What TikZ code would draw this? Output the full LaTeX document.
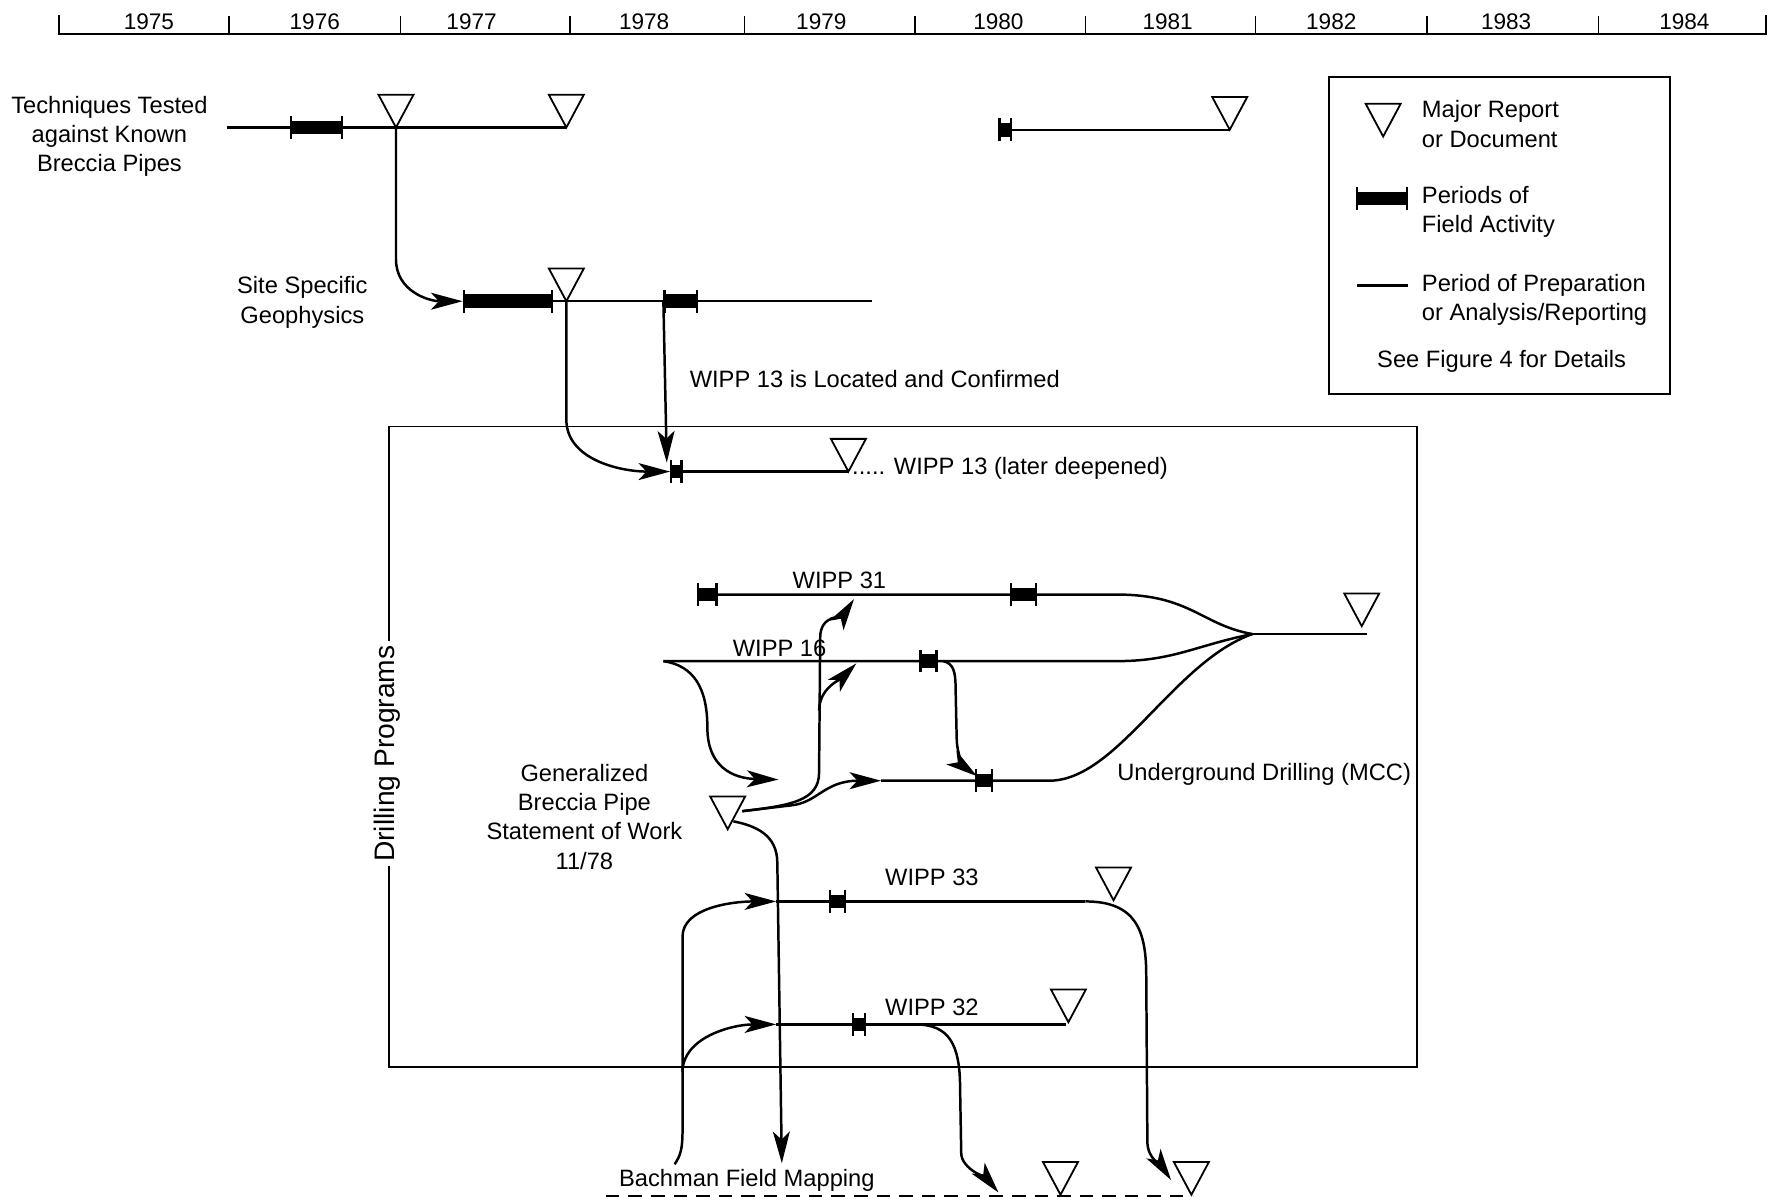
\documentclass[tikz,border=0pt]{standalone}
\usepackage{fontspec}
\setmainfont{Liberation Sans}
\usetikzlibrary{arrows.meta}

\begin{document}
\begin{tikzpicture}[x=0.5pt, y=-0.5pt,
    prep/.style={line width=1.1pt},
    flow/.style={line width=1.1pt, -{Stealth[length=14pt, width=7.5pt, inset=3.5pt]}},
    field/.style={line width=6pt, {Bar[width=10pt, line width=1pt]}-{Bar[width=10pt, line width=1pt]}},
    lbl/.style={font=\fontsize{10.5}{13}\selectfont, align=center, inner sep=1pt},
    report/.pic={\draw[line width=0.8pt, fill=white] (0,0) -- (-15.5,-29) -- (15.5,-29) -- cycle;}
]
\useasboundingbox (0,0) rectangle (1568,1065);

% time axis
\draw[line width=1pt] (52,13) -- (52,30) -- (1565,30) -- (1565,13);
\foreach \tx in {203,355,505,660,811,962,1113,1265,1417}
  \draw[line width=0.7pt] (\tx,14) -- (\tx,30);
\foreach \yr/\xx in {1975/132,1976/279,1977/418,1978/571,1979/728,1980/885,1981/1035,1982/1180,1983/1335,1984/1493}
  \node[lbl, font=\fontsize{10}{12}\selectfont] (yr\yr) at (\xx,19) {\yr};

% techniques tested
\node[lbl] (tech) at (97,121) {Techniques Tested\\against Known\\Breccia Pipes};
\coordinate (techS) at (201,113);
\coordinate (techR) at (351,113);
\coordinate (techE) at (502,113);
\draw[prep] (techS) -- (techE);
\draw[field] (257,113) -- (304,113);
\pic at (techR) {report};
\pic at (techE) {report};

\coordinate (lateS) at (885,115);
\coordinate (lateE) at (1090,115);
\draw[prep] (lateS) -- (lateE);
\draw[field] (lateS) -- (897,115);
\pic at (lateE) {report};

% legend
\draw[line width=0.7pt] (1178,68) rectangle (1480,349);
\pic at (1226,121) {report};
\node[lbl, anchor=west, align=left] (legRep) at (1258,110) {Major Report\\or Document};
\draw[field] (1202,176) -- (1248,176);
\node[lbl, anchor=west, align=left] (legField) at (1258,188) {Periods of\\Field Activity};
\draw[prep] (1203,253) -- (1248,253);
\node[lbl, anchor=west, align=left] (legPrep) at (1258,266) {Period of Preparation\\or Analysis/Reporting};
\node[lbl] (legSee) at (1331,320) {See Figure 4 for Details};

% site specific geophysics
\node[lbl] (geo) at (268,268) {Site Specific\\Geophysics};
\coordinate (geoS) at (410,267);
\coordinate (geoR) at (502,267);
\coordinate (geoF) at (588,267);
\coordinate (geoE) at (773,267);
\draw[prep] (geoS) -- (geoE);
\draw[field] (geoS) -- (490,267);
\draw[field] (geoF) -- (619,267);
\pic at (geoR) {report};
\draw[flow] (techR) -- (351,230) .. controls +(0,28) and +(-30,0) .. (geoS);
\node[lbl, anchor=west] (wloc) at (609,336) {WIPP 13 is Located and Confirmed};

% drilling programs
\draw[line width=0.7pt] (345,378) rectangle (1256,946);
\node[lbl, font=\fontsize{12.5}{15}\selectfont, rotate=90, fill=white, inner sep=2pt] (drill) at (343,668) {Drilling Programs};

% WIPP 13
\coordinate (w13S) at (594,418);
\coordinate (w13T) at (591,410);
\coordinate (w13E) at (752,418);
\draw[prep] (w13S) -- (w13E);
\draw[field] (594,418) -- (605,418);
\pic at (w13E) {report};
\node[lbl, anchor=base west, inner sep=0pt] (w13lbl) at (755,421) {..... WIPP 13 (later deepened)};
\draw[flow] (geoR) -- (502,372) .. controls +(0,35) and +(-45,0) .. (w13S);
\draw[flow] (geoF) -- (w13T);

% WIPP 31, WIPP 16, underground drilling
\coordinate (merge) at (1110,562);
\coordinate (finE) at (1212,562);
\coordinate (finR) at (1207,555);
\coordinate (w31S) at (618,527);
\coordinate (w31B) at (990,527);
\draw[prep] (w31S) -- (w31B) .. controls +(65,0) and +(-45,-8) .. (merge);
\draw[field] (618,527) -- (636,527);
\draw[field] (895,527) -- (919,527);
\node[lbl] (w31lbl) at (744,514) {WIPP 31};

\coordinate (w16S) at (588,586);
\coordinate (w16B) at (990,586);
\coordinate (w16F) at (836,586);
\draw[prep] (w16S) -- (w16B) .. controls +(50,0) and +(-50,10) .. (merge);
\draw[field] (815,586) -- (831,586);
\node[lbl] (w16lbl) at (691,575) {WIPP 16};

\coordinate (ugS) at (781,692);
\coordinate (ugB) at (930,692);
\coordinate (ugT) at (866,688);
\draw[prep] (ugS) -- (ugB) .. controls +(60,0) and +(-70,25) .. (merge);
\draw[field] (864,692) -- (880,692);
\node[lbl, anchor=west] (uglbl) at (988,686) {Underground Drilling (MCC)};
\draw[prep] (merge) -- (finE);
\pic at (finR) {report};

\coordinate (w16D) at (690,691);
\draw[flow] (w16S) .. controls (615,590) and (627,610) .. (627,645) .. controls (627,680) and (650,690) .. (w16D);
\draw[flow] (w16F) .. controls (845,588) and (847,595) .. (847,610) -- (848,655) .. controls (848,668) and (855,680) .. (ugT);

% statement of work
\node[lbl] (gen) at (518,724) {Generalized\\Breccia Pipe\\Statement of Work\\11/78};
\coordinate (genR) at (645,735);
\coordinate (genO) at (658,719);
\coordinate (genD) at (650,728);
\coordinate (brB) at (726,630);
\coordinate (w31T) at (757,531);
\coordinate (w16T) at (759,588);
\coordinate (bachT) at (693,1031);
\draw[flow] (genO) .. controls (700,714) and (726,710) .. (726,685) -- (727,565) .. controls +(0,-20) and +(-10,15) .. (w31T);
\draw[flow] (brB) .. controls +(0,-20) and +(-14,14) .. (w16T);
\draw[flow] (genO) -- (700,714) .. controls (725,712) and (730,692) .. (ugS);
\draw[flow] (genD) .. controls (670,732) and (689,740) .. (689,765) -- (bachT);
\pic at (genR) {report};

% WIPP 33
\coordinate (w33S) at (688,799);
\coordinate (w33B) at (962,799);
\coordinate (w33R) at (987,798);
\coordinate (w33T) at (1038,1046);
\draw[prep] (w33S) -- (w33B);
\draw[field] (735,799) -- (750,799);
\node[lbl] (w33lbl) at (826,778) {WIPP 33};
\draw[flow] (w33B) .. controls +(45,0) and +(0,-40) .. (1016,865) -- (1017,1012) .. controls +(0,15) and +(-8,-12) .. (w33T);
\pic at (w33R) {report};

% WIPP 32
\coordinate (w32S) at (688,908);
\coordinate (w32E) at (945,908);
\coordinate (w32O) at (811,908);
\coordinate (w32R) at (947,906);
\coordinate (w32T) at (885,1057);
\draw[prep] (w32S) -- (w32E);
\draw[field] (755,908) -- (768,908);
\node[lbl] (w32lbl) at (826,893) {WIPP 32};
\draw[flow] (w32O) .. controls +(30,0) and +(0,-40) .. (851,965) -- (852,1022) .. controls +(0,14) and +(-10,-12) .. (w32T);
\pic at (w32R) {report};

% Bachman field mapping
\node[lbl] (bach) at (662,1046) {Bachman Field Mapping};
\coordinate (bachS) at (537,1060);
\coordinate (bachE) at (1057,1060);
\coordinate (bachO) at (598,1032);
\draw[prep, dash pattern=on 6pt off 4pt] (bachS) -- (bachE);
\pic at (940,1059) {report};
\pic at (1056,1059) {report};
\draw[flow] (bachO) .. controls +(5,-8) and +(0,20) .. (605,1000) -- (605,830) .. controls +(0,-25) and +(-40,0) .. (w33S);
\draw[flow] (605,950) .. controls +(0,-30) and +(-40,0) .. (w32S);
\end{tikzpicture}
\end{document}
